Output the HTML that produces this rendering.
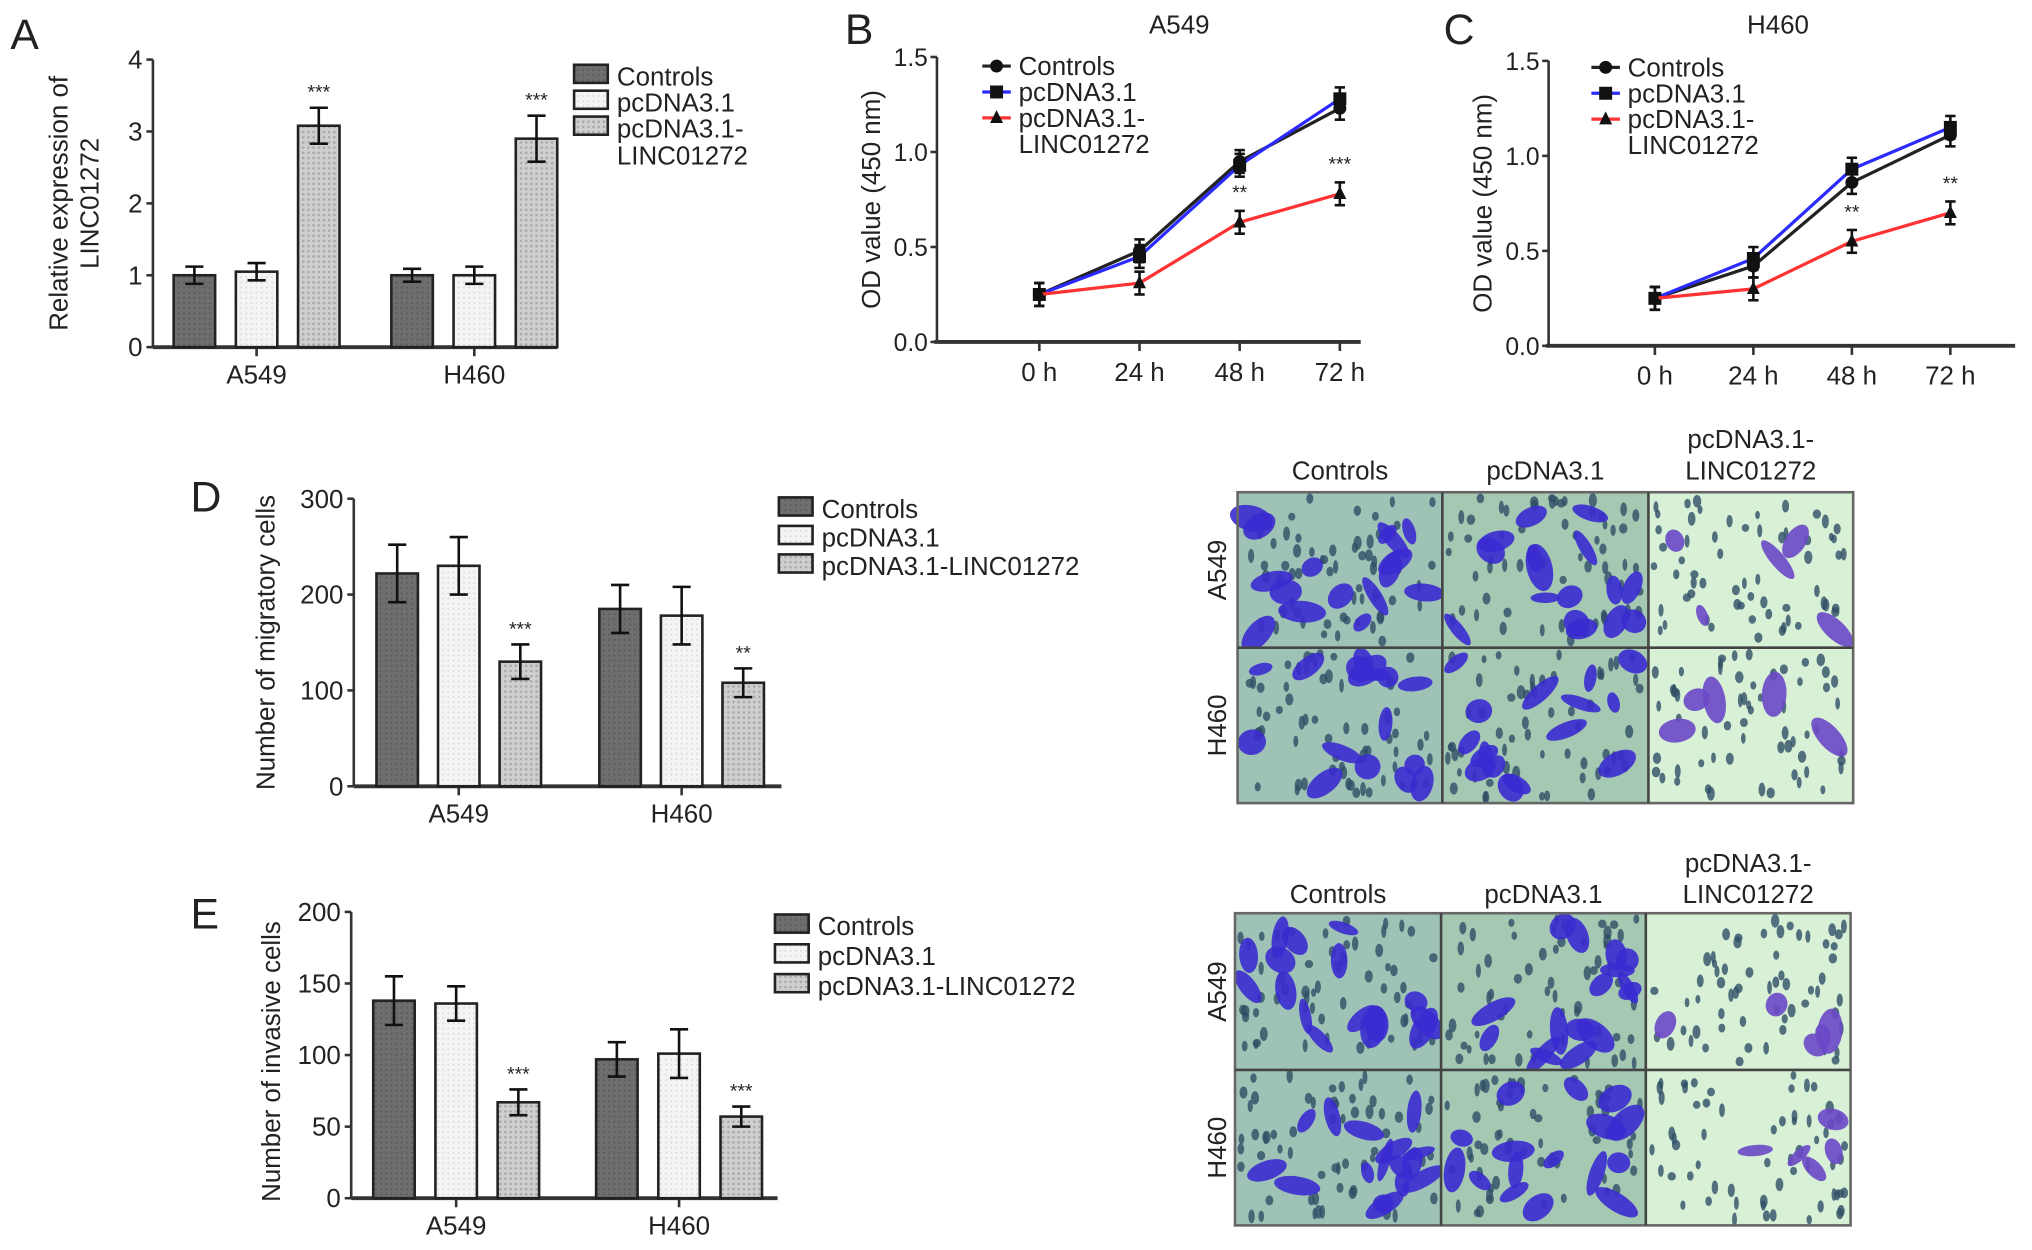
<!DOCTYPE html>
<html><head><meta charset="utf-8"><style>
html,body{margin:0;padding:0;background:#fff;}
svg{display:block;font-family:"Liberation Sans",Arial,sans-serif;}
</style></head><body>
<svg id="fig" width="2032" height="1250" viewBox="0 0 1568 965" preserveAspectRatio="none" xmlns="http://www.w3.org/2000/svg">
<defs>
<pattern id="pDark" width="4" height="4" patternUnits="userSpaceOnUse"><rect width="4" height="4" fill="#6e6e6e"/><circle cx="2" cy="2" r="0.8" fill="#5a5a5a"/></pattern>
<pattern id="pLight" width="4" height="4" patternUnits="userSpaceOnUse"><rect width="4" height="4" fill="#f4f4f4"/><circle cx="2" cy="2" r="0.7" fill="#d8d8d8"/></pattern>
<pattern id="pDot" width="4" height="4" patternUnits="userSpaceOnUse"><rect width="4" height="4" fill="#cfcfcf"/><circle cx="2" cy="2" r="1" fill="#a8a8a8"/></pattern>
</defs>
<g id="root"></g>
</svg>
<script>
// ---- Panel A data ----
const aGroups = ["A549", "H460"];
const aControls = [1.0, 1.0];
const aPcdna = [1.05, 1.0];
const aLinc = [3.08, 2.9];
const aControlsErr = [0.12, 0.09];
const aPcdnaErr = [0.12, 0.12];
const aLincErr = [0.25, 0.32];
const aTicks = [0, 1, 2, 3, 4];
// ---- Panel B data (A549) ----
const timeLabels = ["0 h", "24 h", "48 h", "72 h"];
const bControls = [0.25, 0.48, 0.95, 1.23];
const bPcdna = [0.25, 0.45, 0.93, 1.28];
const bLinc = [0.25, 0.31, 0.63, 0.78];
const bStars = ["", "", "**", "***"];
// ---- Panel C data (H460) ----
const cControls = [0.25, 0.42, 0.86, 1.11];
const cPcdna = [0.25, 0.46, 0.93, 1.15];
const cLinc = [0.25, 0.30, 0.55, 0.70];
const cStars = ["", "", "**", "**"];
const odTicks = [0.0, 0.5, 1.0, 1.5];
// ---- Panel D data ----
const dControls = [222, 185];
const dPcdna = [230, 178];
const dLinc = [130, 108];
const dControlsErr = [30, 25];
const dPcdnaErr = [30, 30];
const dLincErr = [18, 15];
const dTicks = [0, 100, 200, 300];
const dStarLabels = ["***", "**"];
// ---- Panel E data ----
const eControls = [138, 97];
const ePcdna = [136, 101];
const eLinc = [67, 57];
const eControlsErr = [17, 12];
const ePcdnaErr = [12, 17];
const eLincErr = [9, 7];
const eTicks = [0, 50, 100, 150, 200];
const eStarLabels = ["***", "***"];

const NS = "http://www.w3.org/2000/svg";
const root = document.getElementById("root");
function el(tag, attrs, parent, text) {
  const e = document.createElementNS(NS, tag);
  for (const k in attrs) e.setAttribute(k, attrs[k]);
  if (text !== undefined) e.textContent = text;
  (parent || root).appendChild(e);
  return e;
}
function grp(name, parent) {
  const g = el("g", {}, parent);
  
  
  return g;
}
function txt(parent, x, y, s, size, name, anchor, extra) {
  const t = el("text", Object.assign({x: x, y: y, "font-size": size, "text-anchor": anchor || "start", fill: "#222"}, extra || {}), parent, s);
  
  
  return t;
}
function errbar(g, x, y1, y2, cap, name) {
  const e = grp(name, g);
  el("line", {x1: x, x2: x, y1: y1, y2: y2, stroke: "#111", "stroke-width": 2}, e);
  el("line", {x1: x - cap, x2: x + cap, y1: y1, y2: y1, stroke: "#111", "stroke-width": 2}, e);
  el("line", {x1: x - cap, x2: x + cap, y1: y2, y2: y2, stroke: "#111", "stroke-width": 2}, e);
}

function barChart(o) {
  const g = grp(o.name);
  const y = v => o.y0 - (v / o.max) * (o.y0 - o.yTop);
  const ax = grp("y-axis", g);
  el("line", {x1: o.x0, x2: o.x0, y1: o.yTop, y2: o.y0, stroke: "#333", "stroke-width": 2}, ax);
  o.ticks.forEach(t => {
    el("line", {x1: o.x0 - 5, x2: o.x0, y1: y(t), y2: y(t), stroke: "#333", "stroke-width": 2}, ax);
    txt(ax, o.x0 - 8, y(t) + 7, String(t), 20, "y-tick-label", "end");
  });
  const xa = grp("x-axis", g);
  el("line", {x1: o.x0, x2: o.xEnd, y1: o.y0, y2: o.y0, stroke: "#333", "stroke-width": 3}, xa);
  const series = [
    {v: o.s1, e: o.e1, fill: "url(#pDark)", n: "controls"},
    {v: o.s2, e: o.e2, fill: "url(#pLight)", n: "pcdna3-1"},
    {v: o.s3, e: o.e3, fill: "url(#pDot)", n: "pcdna3-1-linc01272"}
  ];
  o.groups.forEach((gname, gi) => {
    const cx = o.gx[gi];
    el("line", {x1: cx, x2: cx, y1: o.y0, y2: o.y0 + 7, stroke: "#333", "stroke-width": 2}, xa);
    txt(xa, cx, o.y0 + 28, gname, 20, "x-tick-label", "middle");
    series.forEach((s, si) => {
      const bxx = cx + (si - 1) * o.step - o.bw / 2;
      const r = el("rect", {x: bxx, y: y(s.v[gi]), width: o.bw, height: o.y0 - y(s.v[gi]), fill: s.fill, stroke: "#222", "stroke-width": 2}, g);
      
      
      errbar(g, bxx + o.bw / 2, y(s.v[gi] + s.e[gi]), y(s.v[gi] - s.e[gi]), 7, "error-bar");
      if (si === 2 && o.stars[gi]) txt(g, bxx + o.bw / 2, y(s.v[gi] + s.e[gi]) - 7, o.stars[gi], 15, "significance-marker", "middle");
    });
  });
  const yt = grp("y-axis-title", g);
  o.ytitle.forEach((line, i) => {
    const tx = o.ytx + i * 24, ty = (o.yTop + o.y0) / 2 + (o.ytOff || 0);
    txt(yt, tx, ty, line, 20, "y-title-line", "middle", {transform: "rotate(-90 " + tx + " " + ty + ")"});
  });
  const lg = grp("legend", g);
  const fills = ["url(#pDark)", "url(#pLight)", "url(#pDot)"];
  o.legend.forEach((lab, i) => {
    const ly = o.ly + i * o.lstep;
    const b = el("rect", {x: o.lx, y: ly - 13, width: 26, height: 14, fill: fills[i], stroke: "#222", "stroke-width": 2}, lg);
    
    
    lab.split("\n").forEach((ln, k) => txt(lg, o.lx + 33, ly + 3 + k * 21, ln, 20, "legend-entry"));
  });
}

function lineChart(o) {
  const g = grp(o.name);
  const y = v => o.y0 - (v / 1.5) * (o.y0 - o.yTop);
  const ax = grp("y-axis", g);
  el("line", {x1: o.x0, x2: o.x0, y1: o.yTop, y2: o.y0, stroke: "#333", "stroke-width": 2}, ax);
  odTicks.forEach(t => {
    el("line", {x1: o.x0 - 5, x2: o.x0, y1: y(t), y2: y(t), stroke: "#333", "stroke-width": 2}, ax);
    txt(ax, o.x0 - 7, y(t) + 7, t.toFixed(1), 19, "y-tick-label", "end");
  });
  const xa = grp("x-axis", g);
  el("line", {x1: o.x0 - 2, x2: o.xEnd, y1: o.y0, y2: o.y0, stroke: "#333", "stroke-width": 3}, xa);
  const xs = i => o.xFirst + i * o.xStep;
  timeLabels.forEach((l, i) => {
    el("line", {x1: xs(i), x2: xs(i), y1: o.y0, y2: o.y0 + 7, stroke: "#333", "stroke-width": 2}, xa);
    txt(xa, xs(i), o.y0 + 30, l, 20, "x-tick-label", "middle");
  });
  const series = [
    {v: o.s1, c: "#222", m: "circle", n: "controls"},
    {v: o.s2, c: "#2b2bff", m: "square", n: "pcdna3-1"},
    {v: o.s3, c: "#ff3333", m: "triangle", n: "pcdna3-1-linc01272"}
  ];
  function marker(p, m, x, yy) {
    if (m === "circle") el("circle", {cx: x, cy: yy, r: 5, fill: "#111"}, p);
    else if (m === "square") el("rect", {x: x - 5, y: yy - 5, width: 10, height: 10, fill: "#111"}, p);
    else el("polygon", {points: (x) + "," + (yy - 6) + " " + (x - 5) + "," + (yy + 4) + " " + (x + 5) + "," + (yy + 4), fill: "#111"}, p);
  }
  series.forEach(s => {
    const sg = grp("series-" + s.n, g);
    const pts = s.v.map((v, i) => xs(i) + "," + y(v)).join(" ");
    el("polyline", {points: pts, fill: "none", stroke: s.c, "stroke-width": 2.5}, sg);
    s.v.forEach((v, i) => {
      errbar(sg, xs(i), y(v + 0.06), y(v - 0.06), 4, "error-bar");
      marker(sg, s.m, xs(i), y(v));
    });
  });
  o.stars.forEach((st, i) => {
    if (st) txt(g, xs(i), y(o.s3[i] + 0.06) - 9, st, 15, "significance-marker", "middle");
  });
  txt(g, o.titleX, 26, o.title, 20, "chart-title", "middle");
  const tx = o.x0 - 44, ty = (o.yTop + o.y0) / 2;
  txt(g, tx, ty, "OD value (450 nm)", 20, "y-axis-title", "middle", {transform: "rotate(-90 " + tx + " " + ty + ")"});
  const lg = grp("legend", g);
  const labs = ["Controls", "pcDNA3.1", "pcDNA3.1-\nLINC01272"];
  series.forEach((s, i) => {
    const ly = o.ly + i * 20;
    el("line", {x1: o.lx, x2: o.lx + 22, y1: ly, y2: ly, stroke: s.c, "stroke-width": 2.5}, lg);
    marker(lg, s.m, o.lx + 11, ly);
    labs[i].split("\n").forEach((ln, k) => txt(lg, o.lx + 28, ly + 7 + k * 20, ln, 20, "legend-entry"));
  });
}

barChart({name: "panel-a-chart", groups: aGroups, gx: [198, 366], s1: aControls, s2: aPcdna, s3: aLinc, e1: aControlsErr, e2: aPcdnaErr, e3: aLincErr,
  stars: ["***", "***"], max: 4, ticks: aTicks, x0: 118, xEnd: 430, y0: 268, yTop: 46, bw: 32, step: 48,
  ytitle: ["Relative expression of", "LINC01272"], ytx: 52, lx: 443, ly: 63, lstep: 20, legend: ["Controls", "pcDNA3.1", "pcDNA3.1-\nLINC01272"]});
lineChart({name: "panel-b-chart", title: "A549", titleX: 910, x0: 723, xEnd: 1050, y0: 264, yTop: 44, xFirst: 802, xStep: 77.3,
  s1: bControls, s2: bPcdna, s3: bLinc, stars: bStars, lx: 758, ly: 51});
lineChart({name: "panel-c-chart", title: "H460", titleX: 1372, x0: 1195, xEnd: 1555, y0: 267, yTop: 47, xFirst: 1277, xStep: 76,
  s1: cControls, s2: cPcdna, s3: cLinc, stars: cStars, lx: 1228, ly: 52});
barChart({name: "panel-d-chart", groups: aGroups, gx: [354, 526], s1: dControls, s2: dPcdna, s3: dLinc, e1: dControlsErr, e2: dPcdnaErr, e3: dLincErr,
  stars: dStarLabels, max: 300, ticks: dTicks, x0: 273, xEnd: 603, y0: 607, yTop: 385, bw: 32, step: 47.5,
  ytitle: ["Number of migratory cells"], ytx: 212, lx: 601, ly: 397, lstep: 22, legend: ["Controls", "pcDNA3.1", "pcDNA3.1-LINC01272"]});
barChart({name: "panel-e-chart", groups: aGroups, gx: [352, 524], s1: eControls, s2: ePcdna, s3: eLinc, e1: eControlsErr, e2: ePcdnaErr, e3: eLincErr,
  stars: eStarLabels, max: 200, ticks: eTicks, x0: 271, xEnd: 600, y0: 925, yTop: 704, bw: 32, step: 48,
  ytitle: ["Number of invasive cells"], ytx: 216, ytOff: 5, lx: 598, ly: 719, lstep: 23, legend: ["Controls", "pcDNA3.1", "pcDNA3.1-LINC01272"]});

[["A", 8, 38], ["B", 652, 34], ["C", 1114, 34], ["D", 147, 395], ["E", 147, 717]].forEach(p => {
  txt(root, p[1], p[2], p[0], 33, "panel-label-" + p[0].toLowerCase());
});

// ---------- Micrograph grids (decorative texture) ----------
let seed = 12345;
function rnd() { seed = (seed * 1103515245 + 12345) % 2147483648; return seed / 2147483648; }
function micro(name, x0, y0, x1, x2, x3, ymid, y3, headY) {
  const g = grp(name);
  const cols = [[x0, x1], [x1, x2], [x2, x3]];
  const rows = [[y0, ymid], [ymid, y3]];
  const bgs = ["#9fc2b6", "#a5c8b3", "#d8f0d6"];
  rows.forEach((r, ri) => cols.forEach((c, ci) => {
    const cell = grp("micrograph-" + ["a549", "h460"][ri] + "-" + ["controls", "pcdna3-1", "pcdna3-1-linc01272"][ci], g);
    el("rect", {x: c[0], y: r[0], width: c[1] - c[0], height: r[1] - r[0], fill: bgs[ci]}, cell);
    const w = c[1] - c[0], h = r[1] - r[0];
    for (let k = 0; k < 60; k++) {
      const px = c[0] + 4 + rnd() * (w - 8), py = r[0] + 4 + rnd() * (h - 8);
      el("ellipse", {cx: px, cy: py, rx: 1.8 + rnd() * 1.5, ry: 3 + rnd() * 2.5, fill: "#2f4f66", opacity: 0.8}, cell);
    }
    const nb = ci === 2 ? 5 : 16;
    for (let k = 0; k < nb; k++) {
      const px = c[0] + 10 + rnd() * (w - 20), py = r[0] + 10 + rnd() * (h - 20);
      el("ellipse", {cx: px, cy: py, rx: 4 + rnd() * 6, ry: 8 + rnd() * 11, fill: ci === 2 ? "#6a48c8" : "#3a2bd0", opacity: 0.9,
        transform: "rotate(" + Math.floor(rnd() * 180) + " " + px + " " + py + ")"}, cell);
    }
  }));
  el("rect", {x: x0, y: y0, width: x3 - x0, height: y3 - y0, fill: "none", stroke: "#666", "stroke-width": 2}, g);
  [x1, x2].forEach(x => el("line", {x1: x, x2: x, y1: y0, y2: y3, stroke: "#444", "stroke-width": 2}, g));
  el("line", {x1: x0, x2: x3, y1: ymid, y2: ymid, stroke: "#444", "stroke-width": 2}, g);
  txt(g, (x0 + x1) / 2, headY, "Controls", 20, "column-header", "middle");
  txt(g, (x1 + x2) / 2, headY, "pcDNA3.1", 20, "column-header", "middle");
  txt(g, (x2 + x3) / 2, headY - 24, "pcDNA3.1-", 20, "column-header", "middle");
  txt(g, (x2 + x3) / 2, headY, "LINC01272", 20, "column-header", "middle");
  [["A549", (y0 + ymid) / 2], ["H460", (ymid + y3) / 2]].forEach(p => {
    txt(g, 946, p[1], p[0], 20, "row-label", "middle", {transform: "rotate(-90 946 " + p[1] + ")"});
  });
}
micro("panel-d-micrographs", 955, 380, 1113, 1272, 1430, 500, 620, 370);
micro("panel-e-micrographs", 953, 705, 1112, 1270, 1428, 826, 946, 697);
</script>
</body></html>
